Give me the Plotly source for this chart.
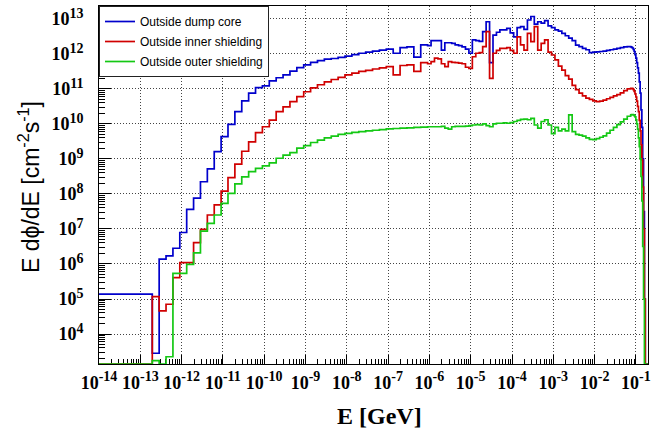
import numpy as np
import plotly.graph_objects as go

# ---------------- data (log10 of E and of E dphi/dE) ----------------
# Bin structure of the histograms (log10 E [GeV])
first_edge = -14.0            # lower edge of the first, wide bin
coarse_start, coarse_width, coarse_n = -12.71, 1 / 6, 40
mid_width, mid_n = 1 / 12, 59
fine_width, fine_n = 1 / 48, 20

# None = empty bin (drawn on the frame bottom, as ROOT does)
blue_log = ([5.14] +
    [3.45, 6.14, 6.23, 6.45, 6.90, 7.56, 7.88, 8.35, 8.72, 9.21,
     9.64, 9.99, 10.35, 10.66, 10.88, 11.04, 11.09, 11.23, 11.32, 11.40,
     11.51, 11.61, 11.69, 11.76, 11.81, 11.85, 11.87, 11.90, 11.94, 11.98,
     12.02, 12.05, 12.08, 12.11, 12.14, 12.02, 12.18, 12.20, 11.91, 12.26] +
    [12.24, 12.38, 12.38, 12.38, 12.11, 12.32, 12.32, 12.30, 12.26, 12.24,
     12.20, 12.14, 12.02, 12.40, 12.38, 12.36, 12.64, 12.92, 11.75, 12.54,
     12.62, 12.69, 12.69, 12.73, 12.60, 12.49, 12.75, 12.78, 12.70, 12.97,
     13.07, 12.85, 12.92, 12.88, 12.95, 12.80, 12.75, 12.69, 12.65, 12.59,
     12.52, 12.45, 12.38, 12.25, 12.21, 12.16, 12.12, 12.04, 12.05, 12.06,
     12.07, 12.08, 12.10, 12.12, 12.14, 12.16, 12.18, 12.20, 12.21] +
    [12.20, 12.19, 12.17, 12.13, 12.07, 11.98, 11.88, 11.75, 11.60, 11.45,
     11.20, 10.88, 10.40, 9.90, 9.00, 7.50, 5.00, None, None, None])

red_log = ([None] +
    [5.07, 4.66, 4.85, 5.61, 6.04, 6.04, 6.61, 6.99, 7.40, 7.69,
     8.08, 8.47, 8.85, 9.22, 9.49, 9.75, 9.92, 10.11, 10.35, 10.49,
     10.64, 10.78, 10.92, 11.03, 11.12, 11.20, 11.27, 11.33, 11.40, 11.45,
     11.50, 11.53, 11.57, 11.60, 11.64, 11.40, 11.67, 11.69, 11.50, 11.75] +
    [11.72, 11.78, 11.88, 11.86, 11.72, 11.64, 11.78, 11.76, 11.75, 11.74,
     11.72, 11.62, 11.59, 11.92, 12.02, 12.04, 12.21, 12.64, 11.30, 12.02,
     12.10, 12.16, 12.16, 12.18, 12.10, 12.02, 12.49, 12.26, 12.11, 12.59,
     12.35, 12.78, 12.11, 12.30, 12.40, 12.05, 11.97, 11.83, 11.65, 11.54,
     11.38, 11.28, 11.10, 10.98, 10.88, 10.80, 10.74, 10.70, 10.66, 10.64,
     10.65, 10.68, 10.72, 10.76, 10.80, 10.84, 10.89, 10.95, 11.00] +
    [11.02, 11.02, 11.01, 10.98, 10.93, 10.86, 10.77, 10.65, 10.50, 10.35,
     10.10, 9.80, 9.40, 8.97, 8.20, 7.00, 5.00, None, None, None])

green_log = ([None] +
    [3.24, None, 3.35, 5.73, 5.73, 5.99, 6.32, 6.94, 7.16, 7.40,
     7.73, 8.02, 8.29, 8.49, 8.64, 8.73, 8.80, 8.89, 9.02, 9.11,
     9.18, 9.31, 9.38, 9.47, 9.54, 9.60, 9.65, 9.70, 9.73, 9.76,
     9.78, 9.80, 9.82, 9.84, 9.86, 9.87, 9.88, 9.89, 9.90, 9.91] +
    [9.92, 9.92, 9.92, 9.92, 9.93, 9.88, 9.85, 9.92, 9.93, 9.93,
     9.93, 9.94, 9.95, 9.97, 9.98, 9.97, 10.00, 9.95, 9.92, 10.00,
     10.02, 10.02, 10.03, 10.02, 10.04, 10.07, 10.10, 10.13, 10.14, 10.12,
     10.16, 9.97, 9.88, 10.07, 10.12, 9.97, 9.72, 9.90, 9.80, 9.85,
     9.80, 10.26, 9.78, 9.70, 9.68, 9.65, 9.60, 9.56, 9.55, 9.58,
     9.62, 9.66, 9.74, 9.82, 9.90, 9.98, 10.06, 10.14, 10.22] +
    [10.26, 10.27, 10.27, 10.26, 10.24, 10.20, 10.12, 10.00, 9.85, 9.60,
     9.35, 9.00, 8.50, 7.80, 6.50, 5.00, None, None, None, None])

series_names = ["Outside dump core", "Outside inner shielding", "Outside outer shielding"]
series_colors = ["#0000cc", "#d00000", "#14c814"]

x_tick_exps = list(range(-14, 0))
y_tick_exps = list(range(4, 14))
x_range_log = [-14.0, -0.707]
y_range_log = [3.143, 13.37]

# ---------------- build ----------------
coarse_end = coarse_start + coarse_n * coarse_width
mid_end = coarse_end + mid_n * mid_width
edges = ([first_edge] +
         [coarse_start + k * coarse_width for k in range(coarse_n + 1)] +
         [coarse_end + k * mid_width for k in range(1, mid_n + 1)] +
         [mid_end + k * fine_width for k in range(1, fine_n + 1)])
edges = np.array(edges)
floor = 10 ** y_range_log[0]


def step_xy(vals):
    y = np.array([floor if v is None else 10 ** v for v in vals])
    y = np.append(y, y[-1])
    return 10 ** edges, y


fig = go.Figure()
for name, color, vals in zip(series_names, series_colors, [blue_log, red_log, green_log]):
    assert len(vals) == len(edges) - 1, (name, len(vals), len(edges))
    x, y = step_xy(vals)
    fig.add_trace(go.Scatter(x=x, y=y, mode="lines", name=name, legendgroup=name,
                             line=dict(color=color, width=1.7, shape="hv")))

tick_font = dict(family="Liberation Serif", size=18, color="black", weight="bold")
grid_dash = "1px,2px"


def power_label(k):
    return f"10<sup><span style='font-size:14px'>{k}</span></sup>"


fig.update_xaxes(
    type="log", range=x_range_log,
    tickvals=[10.0 ** k for k in x_tick_exps],
    ticktext=[power_label(k) for k in x_tick_exps],
    tickfont=tick_font, ticks="inside", ticklen=9, tickcolor="black", tickwidth=1,
    minor=dict(ticks="inside", ticklen=5, tickcolor="black",
               tickvals=[m * 10.0 ** k for k in range(-14, 0) for m in range(2, 10)],
               showgrid=False),
    showline=True, linecolor="black", linewidth=1, mirror=True,
    showgrid=True, gridcolor="#444", gridwidth=1, griddash=grid_dash,
    layer="below traces", zeroline=False, ticklabelstandoff=2,
)
fig.update_yaxes(
    type="log", range=y_range_log,
    tickvals=[10.0 ** k for k in y_tick_exps],
    ticktext=[power_label(k) for k in y_tick_exps],
    tickfont=tick_font, ticks="inside", ticklen=12, tickcolor="black", tickwidth=1,
    minor=dict(ticks="inside", ticklen=6, tickcolor="black",
               tickvals=[m * 10.0 ** k for k in range(3, 14) for m in range(2, 10)],
               showgrid=False),
    showline=True, linecolor="black", linewidth=1, mirror=True,
    showgrid=True, gridcolor="#444", gridwidth=1, griddash=grid_dash,
    layer="below traces", zeroline=False, ticklabelstandoff=11,
)

W, H = 662, 430
ml, mr, mt, mb = 99, 14, 6, 66
pw, ph = W - ml - mr, H - mt - mb

fig.add_annotation(text="E dϕ/dE [cm<sup>-2</sup>s<sup>-1</sup>]", textangle=-90,
                   xref="paper", yref="paper", x=(29 - ml) / pw, y=1 - (187 - mt) / ph,
                   xanchor="center", yanchor="middle", showarrow=False,
                   font=dict(family="Liberation Sans", size=23, color="black"))
fig.add_annotation(text="E [GeV]", xref="paper", yref="paper",
                   x=(379 - ml) / pw, y=1 - (416 - mt) / ph,
                   xanchor="center", yanchor="middle", showarrow=False,
                   font=dict(family="Liberation Serif", size=24, color="black", weight="bold"))

fig.update_layout(
    width=W, height=H, autosize=False,
    margin=dict(l=ml, r=mr, t=mt, b=mb, pad=0),
    paper_bgcolor="white", plot_bgcolor="white",
    showlegend=True,
    legend=dict(x=0, y=1, xanchor="left", yanchor="top", bgcolor="white",
                bordercolor="#222", borderwidth=1, tracegroupgap=1,
                font=dict(family="Liberation Sans", size=12, color="black")),
)

fig.write_html("out.html")
